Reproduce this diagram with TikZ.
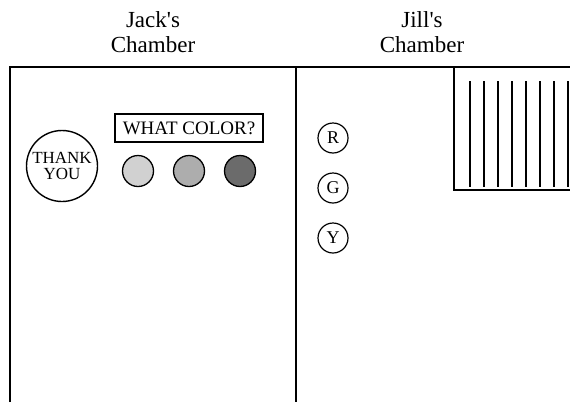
\documentclass[tikz,border=0pt]{standalone}
\usepackage{fontspec}
\setmainfont{Liberation Serif}
\newfontfamily\hdfont{Liberation Serif}[Ligatures=ResetAll]
\begin{document}
\begin{tikzpicture}[x=1pt,y=-1pt,
  heading/.style={align=center,font=\hdfont\fontsize{23}{25}\selectfont,inner sep=0pt},
  frame/.style={line width=1.6pt},
  lamp/.style={circle,draw,line width=1.3pt,minimum size=31pt,inner sep=0pt},
  letterbtn/.style={circle,draw,line width=1.2pt,minimum size=30pt,inner sep=0pt,font=\fontsize{18}{18}\selectfont},
  hatch/.style={line width=1.4pt}]
\useasboundingbox[fill=white] (0,0) rectangle (570,402);
% headings
\node[heading] (jack) at (153,32) {Jack's\\Chamber};
\node[heading] (jill) at (422,32) {Jill's\\Chamber};
% chamber walls
\coordinate (tl) at (10,67);
\coordinate (tr) at (570,67);
\coordinate (bl) at (10,402);
\coordinate (mt) at (296,67);
\coordinate (mb) at (296,402);
\draw[frame] (bl) -- (tl) -- (tr);
\draw[frame] (mt) -- (mb);
% Jack's chamber
\node[circle,draw,line width=1.4pt,minimum size=71pt,inner sep=0pt,align=center,
      font=\fontsize{17}{16}\selectfont] (thanks) at (62,166) {THANK\\YOU};
\node[draw,line width=1.2pt,minimum width=148pt,minimum height=28pt,inner sep=0pt,
      font=\fontsize{19}{19}\selectfont] (what) at (189,128) {WHAT COLOR?};
\node[lamp,fill=black!18] (c1) at (138,171) {};
\node[lamp,fill=black!32] (c2) at (189,171) {};
\node[lamp,fill=black!58] (c3) at (240,171) {};
% Jill's chamber
\node[letterbtn] (r) at (333,138) {R};
\node[letterbtn] (g) at (333,188) {G};
\node[letterbtn] (y) at (333,238) {Y};
\coordinate (ht) at (454,67);
\coordinate (hb) at (454,190);
\coordinate (hr) at (570,190);
\draw[line width=1.3pt] (ht) -- (hb) -- (hr);
\foreach \i in {0,...,7}{
  \draw[hatch] (470+14*\i,81) -- (470+14*\i,187);
}
\end{tikzpicture}
\end{document}
